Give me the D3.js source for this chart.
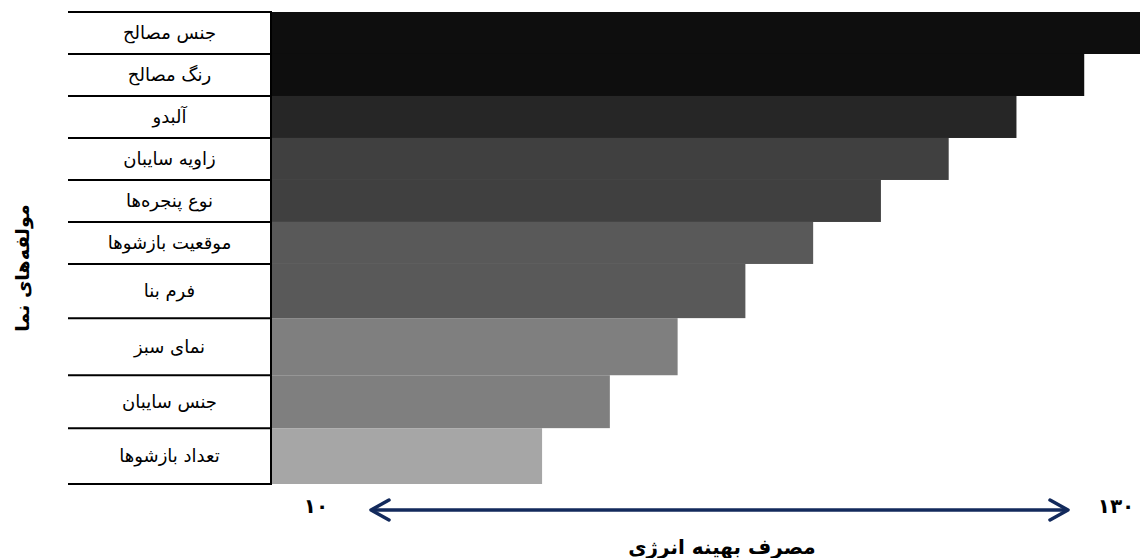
<!DOCTYPE html>
<html>
<head>
<meta charset="utf-8">
<script src="https://cdn.jsdelivr.net/npm/d3@7"></script>
<style>
  html, body { margin: 0; padding: 0; background: #fff; }
  svg { display: block; }
  text { font-family: "DejaVu Sans", sans-serif; }
</style>
</head>
<body>
<svg id="chart" width="1140" height="558"></svg>
<script>
// ---- data ----
const categories = ["جنس مصالح", "رنگ مصالح", "آلبدو", "زاویه سایبان", "نوع پنجره‌ها",
  "موقعیت بازشوها", "فرم بنا", "نمای سبز", "جنس سایبان", "تعداد بازشوها"];
const values = [130, 120, 110, 100, 90, 80, 70, 60, 50, 40];
const barColors = ["#0e0e0e", "#0e0e0e", "#262626", "#404040", "#404040",
  "#595959", "#595959", "#7f7f7f", "#7f7f7f", "#a6a6a6"];
const axisEndLabels = ["۱۰", "۱۳۰"];
const xTitle = "مصرف بهینه انرژی";
const yTitle = "مولفه‌های نما";

// ---- layout (row heights in the source table are not uniform) ----
const rowWeight = [1, 1, 1, 1, 1, 1, 1.29, 1.36, 1.26, 1.33];
const tableLeft = 68, tableRight = 271, tableTop = 12, tableBottom = 484;

const svg = d3.select("#chart");

const cum = [0];
rowWeight.forEach((w, i) => cum.push(cum[i] + w));
const yPos = d3.scaleLinear().domain([0, cum[cum.length - 1]]).range([tableTop, tableBottom]);
const rowTop = i => yPos(cum[i]);
const rowBot = i => yPos(cum[i + 1]);

const x = d3.scaleLinear().domain([0, 130]).range([tableRight, 1152]);

// bars
svg.append("g").selectAll("rect")
  .data(categories)
  .join("rect")
  .attr("x", x(0))
  .attr("y", (d, i) => rowTop(i))
  .attr("width", (d, i) => x(values[i]) - x(0))
  .attr("height", (d, i) => rowBot(i) - rowTop(i))
  .attr("fill", (d, i) => barColors[i]);

// table lines
const grid = svg.append("g").attr("stroke", "#000").attr("stroke-width", 2);
grid.selectAll("line.h")
  .data(d3.range(categories.length + 1))
  .join("line")
  .attr("class", "h")
  .attr("x1", tableLeft).attr("x2", tableRight)
  .attr("y1", i => yPos(cum[i])).attr("y2", i => yPos(cum[i]));
grid.append("line")
  .attr("x1", tableRight).attr("x2", tableRight)
  .attr("y1", tableTop - 1).attr("y2", tableBottom + 1);

// category labels
svg.append("g").selectAll("text")
  .data(categories)
  .join("text")
  .attr("x", (tableLeft + tableRight) / 2)
  .attr("y", (d, i) => (rowTop(i) + rowBot(i)) / 2 + 1)
  .attr("text-anchor", "middle")
  .attr("dominant-baseline", "middle")
  .attr("font-size", 18)
  .attr("fill", "#000")
  .text(d => d);

// double-headed arrow axis
const arrowY = 510, ax1 = 371, ax2 = 1068;
const navy = "#132a5c";
const arr = svg.append("g").attr("stroke", navy).attr("fill", "none")
  .attr("stroke-width", 3.5).attr("stroke-linecap", "round").attr("stroke-linejoin", "round");
arr.append("line").attr("x1", ax1 + 2).attr("x2", ax2 - 2).attr("y1", arrowY).attr("y2", arrowY);
arr.append("path").attr("d", `M${ax1 + 18},${arrowY - 10} L${ax1},${arrowY} L${ax1 + 18},${arrowY + 10}`);
arr.append("path").attr("d", `M${ax2 - 18},${arrowY - 10} L${ax2},${arrowY} L${ax2 - 18},${arrowY + 10}`);

svg.append("text")
  .attr("x", 316).attr("y", arrowY + 3)
  .attr("text-anchor", "middle").attr("font-size", 20).attr("font-weight", "bold")
  .text(axisEndLabels[0]);
svg.append("text")
  .attr("x", 1116).attr("y", arrowY + 3)
  .attr("text-anchor", "middle").attr("font-size", 20).attr("font-weight", "bold")
  .text(axisEndLabels[1]);

// titles
svg.append("text")
  .attr("x", 722).attr("y", 554)
  .attr("text-anchor", "middle").attr("font-size", 20).attr("font-weight", "bold")
  .text(xTitle);
svg.append("text")
  .attr("transform", "translate(29,268) rotate(-90)")
  .attr("text-anchor", "middle").attr("font-size", 19).attr("font-weight", "bold")
  .text(yTitle);
</script>
</body>
</html>
